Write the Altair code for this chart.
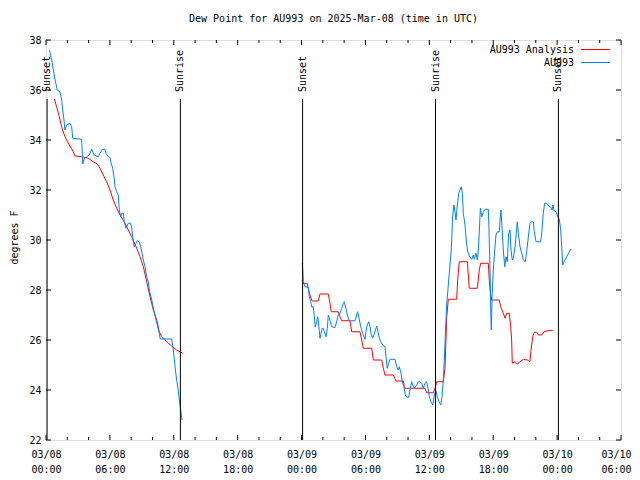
import altair as alt
import pandas as pd

FONT = "DejaVu Sans Mono"
BASE = pd.Timestamp("2025-03-08T00:00:00")

# Observations (AU993): hours after 2025-03-08 00:00 UTC, dew point (F)
obs1_h = [0.31, 0.54, 0.69, 0.85, 1.06, 1.31, 1.47, 1.57, 1.69, 1.78, 1.94, 2.25, 2.41, 2.51, 3.35,
          3.45, 3.60, 3.82, 4.07, 4.29, 4.51, 4.91, 5.07, 5.32, 5.54, 5.63, 5.85, 6.01, 6.08, 6.26,
          6.39, 6.48, 6.64, 6.79, 6.88, 7.02, 7.11, 7.26, 7.35, 7.51, 7.73, 7.95, 8.05, 8.14, 8.29,
          8.45, 8.57, 8.76, 8.89, 9.02, 9.14, 9.30, 9.46, 9.61, 9.70, 9.93, 10.08, 10.26, 10.45, 10.64,
          10.73, 11.80, 11.96, 12.12, 12.27, 12.42, 12.52, 12.65, 12.77]
obs1_v = [37.6, 37.2, 36.8, 36.4, 36.0, 35.93, 35.6, 35.2, 34.8, 34.4, 34.6, 34.67, 34.53, 34.07, 34.03,
          33.04, 33.27, 33.33, 33.4, 33.63, 33.4, 33.33, 33.47, 33.63, 33.63, 33.47, 33.33, 33.3, 33.13, 32.87,
          32.53, 32.13, 31.93, 31.8, 31.2, 30.93, 31.07, 31.07, 30.73, 30.47, 30.67, 30.67, 30.47, 30.13, 29.73,
          29.87, 29.97, 29.93, 29.73, 29.47, 29.2, 28.93, 28.53, 28.33, 28.0, 27.6, 27.27, 26.93, 26.6, 26.27,
          26.04, 26.04, 25.6, 24.93, 24.4, 24.0, 23.6, 23.2, 22.8]

obs2_h = [24.07, 24.11, 24.16, 24.32, 24.63, 24.73, 24.86, 24.95, 25.10, 25.20,
          25.29, 25.42, 25.52, 25.61, 25.73, 25.83, 25.95, 26.04, 26.14, 26.30,
          26.42, 26.51, 26.61, 26.83, 27.14, 27.30, 27.45, 27.61, 27.77, 27.92,
          28.01, 28.17, 28.30, 28.48, 29.02, 29.18, 29.27, 29.40, 29.56, 29.74,
          29.87, 29.96, 30.05, 30.17, 30.31, 30.43, 30.52, 30.68, 30.80, 30.93,
          31.06, 31.18, 31.30, 31.43, 31.62, 31.84, 31.93, 32.05, 32.18, 32.31,
          32.78, 32.94, 33.06, 33.18, 33.34, 33.46, 33.62, 33.74, 33.87, 34.06,
          34.19, 34.34, 34.44, 34.59, 34.81, 34.96, 35.12, 35.28, 35.43, 35.59,
          35.75, 35.88, 36.00, 36.16, 36.32, 36.44, 36.60, 36.75, 36.91, 37.07,
          37.19, 37.31, 37.41, 37.50, 37.63, 37.78, 37.94, 38.06, 38.19, 38.31,
          38.41, 38.50, 38.63, 38.76, 38.88, 39.00, 39.10, 39.19, 39.35, 39.44,
          39.57, 39.75, 39.98, 40.13, 40.22, 40.38, 40.51, 40.60, 40.69, 40.79,
          40.92, 41.07, 41.23, 41.54, 41.60, 41.70, 41.76, 41.82, 41.89, 42.01,
          42.14, 42.26, 42.38, 42.57, 42.64, 42.73, 42.83, 42.95, 43.08, 43.20,
          43.32, 43.45, 43.58, 43.67, 43.79, 43.89, 44.05, 44.17, 44.26, 44.36,
          44.52, 44.68, 44.83, 45.01, 45.14, 45.30, 45.45, 45.61, 45.76, 45.86,
          46.02, 46.46, 46.58, 46.70, 46.83, 47.02, 47.21, 47.40, 47.52, 47.61,
          47.71, 47.90, 48.06, 48.21, 48.34, 48.43, 48.53, 48.65, 48.90, 49.15,
          49.30]
obs2_v = [29.07, 28.8, 28.33, 28.13, 28.1, 27.73, 27.53, 27.33, 27.33, 26.93,
          26.53, 26.73, 26.93, 26.6, 26.07, 26.27, 26.47, 26.47, 26.33, 26.13,
          26.47, 27.0, 26.87, 26.53, 26.5, 26.73, 27.0, 27.07, 27.27, 27.47,
          27.53, 27.27, 27.0, 26.77, 26.77, 27.0, 27.13, 26.87, 26.53, 26.27,
          26.13, 26.03, 26.33, 26.6, 26.73, 26.53, 26.27, 26.07, 26.2, 26.4,
          26.56, 26.33, 26.07, 25.93, 25.8, 25.73, 25.33, 24.87, 25.07, 25.23,
          25.23, 24.93, 24.8, 24.93, 24.67, 24.33, 24.13, 23.8, 23.71, 23.71,
          24.0, 24.33, 24.2, 24.07, 24.2, 24.33, 24.33, 24.27, 24.07, 24.27,
          24.33, 24.07, 23.73, 23.53, 23.4, 23.73, 24.0, 23.73, 23.53, 23.4,
          23.73, 24.4, 25.2, 26.2, 27.4, 28.2, 29.0, 29.6, 30.93, 31.4,
          31.13, 30.8, 31.4, 31.87, 32.0, 32.13, 31.87, 31.07, 30.6, 30.13,
          29.6, 29.36, 29.23, 29.4, 29.23, 29.47, 29.2, 29.6, 30.27, 31.27,
          30.93, 31.13, 31.23, 31.23, 30.47, 28.8, 27.33, 26.4, 27.73, 28.8,
          29.6, 30.2, 30.33, 30.33, 30.8, 31.2, 30.47, 29.6, 28.93, 29.33,
          29.13, 30.27, 30.4, 29.6, 29.2, 29.27, 29.73, 30.27, 30.73, 30.27,
          29.73, 29.47, 29.2, 29.13, 29.53, 30.13, 30.67, 30.73, 30.73, 30.33,
          29.93, 29.93, 30.4, 31.07, 31.47, 31.47, 31.36, 31.31, 31.2, 31.4,
          31.17, 31.13, 30.93, 30.83, 30.4, 29.73, 29.0, 29.13, 29.33, 29.53,
          29.64]

# Analysis (AU993 Analysis)
ana1_h = [0.78, 1.00, 1.25, 1.47, 1.78, 2.19, 2.56, 2.72, 3.35, 3.97,
          4.44, 4.82, 5.07, 5.38, 5.70, 6.01, 6.32, 6.64, 6.95, 7.42,
          7.73, 8.05, 8.52, 8.83, 9.14, 9.46, 9.77, 10.08, 10.40, 10.64,
          10.87, 11.34, 11.80, 12.27, 12.84]
ana1_v = [35.64, 35.33, 34.93, 34.53, 34.13, 33.8, 33.53, 33.36, 33.33, 33.27,
          33.13, 33.04, 32.87, 32.6, 32.33, 32.0, 31.6, 31.27, 31.0, 30.67,
          30.4, 30.13, 29.67, 29.33, 28.93, 28.33, 27.73, 27.2, 26.8, 26.33,
          26.13, 25.93, 25.76, 25.6, 25.47]

ana2_h = [24.07, 24.54, 24.63, 24.79, 24.95, 25.01, 25.57, 25.73, 26.51, 26.67,
          26.79, 27.45, 27.61, 27.77, 28.55, 28.71, 29.49, 29.65, 29.80, 30.59,
          30.74, 31.53, 31.68, 31.84, 32.62, 32.87, 33.56, 33.65, 33.72, 35.59,
          35.75, 36.37, 36.60, 36.69, 37.31, 37.47, 37.63, 37.78, 38.57, 38.66,
          38.81, 39.57, 39.75, 40.51, 40.69, 40.82, 41.54, 41.63, 41.76, 41.86,
          42.57, 42.70, 42.95, 43.11, 43.27, 43.51, 43.64, 43.73, 43.79, 44.05,
          44.26, 44.52, 44.83, 45.20, 45.45, 45.55, 45.71, 45.86, 46.08, 46.24,
          46.55, 46.77, 47.17, 47.59]
ana2_v = [28.27, 28.27, 28.07, 27.8, 27.6, 27.56, 27.56, 27.84, 27.84, 27.47,
          27.13, 27.13, 26.93, 26.77, 26.77, 26.33, 26.33, 26.0, 25.67, 25.67,
          25.2, 25.2, 24.87, 24.6, 24.6, 24.36, 24.36, 24.13, 24.07, 24.07,
          23.89, 23.89, 24.16, 24.33, 24.33, 24.87, 26.9, 27.63, 27.63, 28.4,
          29.13, 29.13, 28.07, 28.07, 28.8, 29.07, 29.07, 28.4, 27.8, 27.6,
          27.6, 27.33, 27.07, 26.87, 27.07, 27.07, 26.53, 26.0, 25.07, 25.13,
          25.04, 25.13, 25.23, 25.2, 25.13, 25.6, 26.13, 26.31, 26.31, 26.2,
          26.2, 26.33, 26.37, 26.39]

series_names = ["AU993 Analysis", "AU993"]
series_colors = ["#ff0000", "#0080ff"]

event_names = ["Sunset", "Sunrise", "Sunset", "Sunrise", "Sunset"]
event_hours = [0.1, 12.62, 24.1, 36.58, 48.12]

y_ticks = [22, 24, 26, 28, 30, 32, 34, 36, 38]
x_major_hours = [0, 6, 12, 18, 24, 30, 36, 42, 48, 54]
x_minor_hours = [2, 4, 8, 10, 14, 16, 20, 22, 26, 28, 32, 34, 38, 40, 44, 46, 50, 52]


def iso(h):
    return (BASE + pd.Timedelta(hours=h)).strftime("%Y-%m-%dT%H:%M:%SZ")


rows = []
for name, seg, hs, vs in [
    (series_names[0], 1, ana1_h, ana1_v),
    (series_names[0], 2, ana2_h, ana2_v),
    (series_names[1], 1, obs1_h, obs1_v),
    (series_names[1], 2, obs2_h, obs2_v),
]:
    assert len(hs) == len(vs)
    for h, v in zip(hs, vs):
        rows.append({"series": name, "seg": f"{name}-{seg}", "time": iso(h), "dewpt": v})
df = pd.DataFrame(rows)

events = pd.DataFrame({"name": event_names, "time": [iso(h) for h in event_hours]})
xmaj = pd.DataFrame({"time": [iso(h) for h in x_major_hours]})
xmin = pd.DataFrame({"time": [iso(h) for h in x_minor_hours]})
yt = pd.DataFrame({"dewpt": y_ticks})

W, H = 575, 400

dt0 = alt.DateTime(year=2025, month=3, date=8, hours=0, utc=True)
dt1 = alt.DateTime(year=2025, month=3, date=10, hours=6, utc=True)
xscale = alt.Scale(type="utc", domain=[dt0, dt1])
yscale = alt.Scale(domain=[22, 38], nice=False, zero=False)

# last label (03/10 06:00) sits at the right edge: right-align it so it stays on the page
last_label_test = "datum.value >= 1741580000000"
xaxis = alt.Axis(
    values=[alt.DateTime(year=2025, month=3, date=8 + h // 24, hours=h % 24, utc=True) for h in x_major_hours],
    labelExpr="[utcFormat(datum.value, '%m/%d'), utcFormat(datum.value, '%H:%M')]",
    ticks=False, grid=False, domain=False, labelPadding=9, labelLineHeight=15,
    labelFont=FONT, labelFontSize=10, labelColor="black", labelFlush=False, labelOverlap=False,
    labelAlign={"condition": {"test": last_label_test, "value": "right"}, "value": "center"},
    labelOffset={"condition": {"test": last_label_test, "value": 10}, "value": 0},
    title=None,
)
yaxis = alt.Axis(
    values=y_ticks, ticks=False, grid=False, domain=False, labelPadding=5,
    labelFont=FONT, labelFontSize=10, labelColor="black",
    title="degrees F", titleFont=FONT, titleFontSize=10, titleFontWeight="normal", titleColor="black",
    titleX=-32, titleY=H / 2 - 3, titleAngle=270, titleAlign="center", titleBaseline="middle",
)


def X():
    return alt.X("time:T", scale=xscale, axis=xaxis, title=None)


def Y():
    return alt.Y("dewpt:Q", scale=yscale, axis=yaxis, title="degrees F")


lines = alt.Chart(df).mark_line(strokeWidth=1, interpolate="linear").encode(
    x=X(),
    y=Y(),
    color=alt.Color("series:N", scale=alt.Scale(domain=series_names, range=series_colors), legend=None),
    detail="seg:N",
    order=alt.Order("time:T"),
)

ev_rules = alt.Chart(events).mark_rule(color="black", strokeWidth=1).encode(
    x=X(), y=alt.value(59), y2=alt.value(H),
)
ev_text = alt.Chart(events).mark_text(
    angle=270, align="left", baseline="middle", font=FONT, fontSize=10, color="black"
).encode(x=X(), y=alt.value(52), text="name:N")

tick_layers = []
for frame, ln in [(xmaj, 5), (xmin, 3)]:
    tick_layers.append(alt.Chart(frame).mark_rule(color="black", strokeWidth=1).encode(
        x=X(), y=alt.value(H - ln), y2=alt.value(H)))
    tick_layers.append(alt.Chart(frame).mark_rule(color="black", strokeWidth=1).encode(
        x=X(), y=alt.value(0), y2=alt.value(ln)))
tick_layers.append(alt.Chart(yt).mark_rule(color="black", strokeWidth=1).encode(
    y=Y(), x=alt.value(0), x2=alt.value(5)))
tick_layers.append(alt.Chart(yt).mark_rule(color="black", strokeWidth=1).encode(
    y=Y(), x=alt.value(W - 5), x2=alt.value(W)))

legend_layers = []
for i, (name, col) in enumerate(zip(series_names, series_colors)):
    ypix = 9.5 + 13 * i
    leg = pd.DataFrame({"name": [name]})
    legend_layers.append(alt.Chart(leg).mark_text(
        align="right", baseline="middle", font=FONT, fontSize=10, color="black"
    ).encode(x=alt.value(528), y=alt.value(ypix), text="name:N"))
    legend_layers.append(alt.Chart(leg).mark_rule(color=col, strokeWidth=1).encode(
        x=alt.value(535), x2=alt.value(564), y=alt.value(ypix)))

chart = alt.layer(lines, ev_rules, ev_text, *tick_layers, *legend_layers).properties(
    width=W, height=H,
    title=alt.TitleParams(
        "Dew Point for AU993 on 2025-Mar-08 (time in UTC)",
        font=FONT, fontSize=10, fontWeight="normal", color="black", anchor="middle", offset=11,
    ),
    autosize=alt.AutoSizeParams(type="none"),
    padding={"left": 38, "top": 32, "right": 11, "bottom": 40},
).configure_view(stroke="black", strokeWidth=1).configure(background="white")

chart.save("out.html", embed_options={"renderer": "svg", "actions": False})
